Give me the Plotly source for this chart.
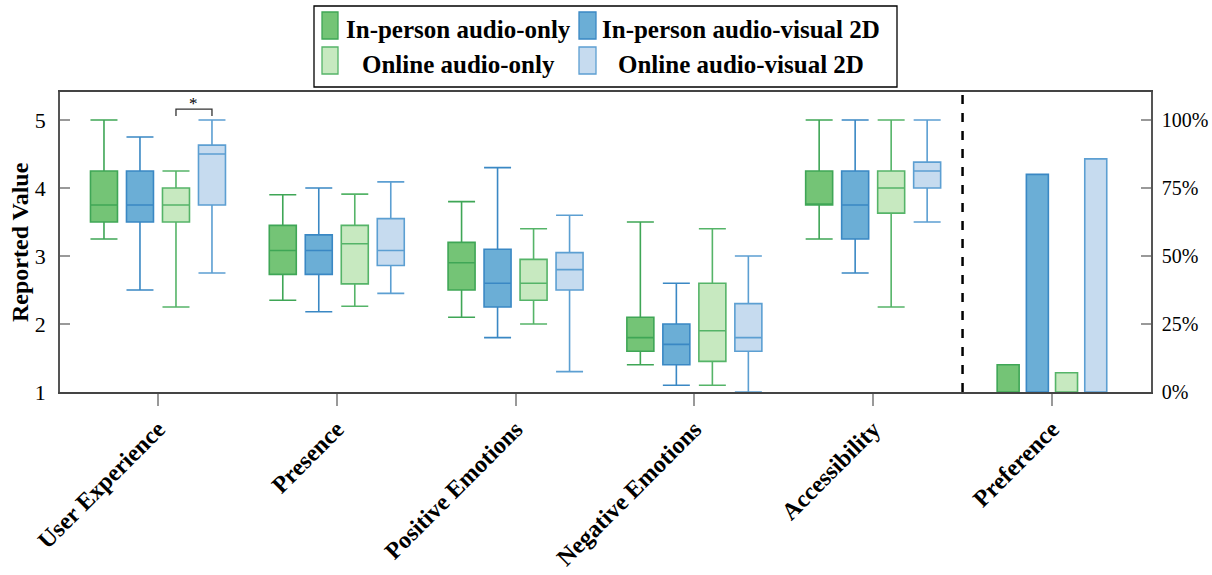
import plotly.graph_objects as go

# ---------------- data ----------------
categories = ["User Experience", "Presence", "Positive Emotions",
              "Negative Emotions", "Accessibility", "Preference"]
series_names = ["In-person audio-only", "In-person audio-visual 2D",
                "Online audio-only", "Online audio-visual 2D"]

# box statistics for the first five categories
ip_ao_low = [3.25, 2.35, 2.10, 1.40, 3.25]
ip_ao_q1 = [3.50, 2.73, 2.50, 1.60, 3.75]
ip_ao_med = [3.75, 3.08, 2.90, 1.80, 3.75]
ip_ao_q3 = [4.25, 3.45, 3.20, 2.10, 4.25]
ip_ao_high = [5.00, 3.90, 3.80, 3.50, 5.00]

ip_av_low = [2.50, 2.18, 1.80, 1.10, 2.75]
ip_av_q1 = [3.50, 2.73, 2.25, 1.40, 3.25]
ip_av_med = [3.75, 3.08, 2.60, 1.70, 3.75]
ip_av_q3 = [4.25, 3.31, 3.10, 2.00, 4.25]
ip_av_high = [4.75, 4.00, 4.30, 2.60, 5.00]

on_ao_low = [2.25, 2.26, 2.00, 1.10, 2.25]
on_ao_q1 = [3.50, 2.59, 2.35, 1.45, 3.63]
on_ao_med = [3.75, 3.18, 2.60, 1.90, 4.00]
on_ao_q3 = [4.00, 3.45, 2.95, 2.60, 4.25]
on_ao_high = [4.25, 3.91, 3.40, 3.40, 5.00]

on_av_low = [2.75, 2.45, 1.30, 1.00, 3.50]
on_av_q1 = [3.75, 2.86, 2.50, 1.60, 4.00]
on_av_med = [4.50, 3.08, 2.80, 1.80, 4.25]
on_av_q3 = [4.63, 3.55, 3.05, 2.30, 4.38]
on_av_high = [5.00, 4.09, 3.60, 3.00, 5.00]

# preference share (right axis)
preference_share = [0.10, 0.80, 0.071, 0.857]

right_tick_vals = [0, 0.25, 0.5, 0.75, 1.0]
right_tick_text = ["0%", "25%", "50%", "75%", "100%"]
left_tick_vals = [1, 2, 3, 4, 5]

# ---------------- style ----------------
fills = ["#74c476", "#6baed6", "#c7e9c0", "#c6dbef"]
edges = ["#3fa656", "#3a88c4", "#55b468", "#5c9fd2"]
box_offsets = [-0.302, -0.1007, 0.1007, 0.302]
box_width = 0.151
bar_offsets = [-0.245, -0.0816, 0.0816, 0.245]
bar_width = 0.123
FONT = "Liberation Serif"

# pixel layout (page coordinates)
L, R, T, B = 60, 1151, 92, 392
W, H = 1212, 575


def px(x):
    return (x - L) / (R - L)


def py(y):
    return (B - y) / (B - T)


stats = [
    (ip_ao_low, ip_ao_q1, ip_ao_med, ip_ao_q3, ip_ao_high),
    (ip_av_low, ip_av_q1, ip_av_med, ip_av_q3, ip_av_high),
    (on_ao_low, on_ao_q1, on_ao_med, on_ao_q3, on_ao_high),
    (on_av_low, on_av_q1, on_av_med, on_av_q3, on_av_high),
]

fig = go.Figure()
n_box = len(ip_ao_q1)
for i, (low, q1, med, q3, high) in enumerate(stats):
    fig.add_trace(go.Box(
        x=[c + box_offsets[i] for c in range(n_box)],
        lowerfence=low, q1=q1, median=med, q3=q3, upperfence=high,
        width=box_width, whiskerwidth=1,
        fillcolor=fills[i], line=dict(color=edges[i], width=1.6),
        name=series_names[i], showlegend=False, boxpoints=False,
        yaxis="y",
    ))

pref_idx = categories.index("Preference")
for i, v in enumerate(preference_share):
    fig.add_trace(go.Bar(
        x=[pref_idx + bar_offsets[i]], y=[v], width=bar_width,
        marker=dict(color=fills[i], line=dict(color=edges[i], width=1.6)),
        name=series_names[i], showlegend=False, yaxis="y2",
    ))

shapes = []
annotations = []

# dashed separator
shapes.append(dict(type="line", xref="x", yref="paper", x0=4.5, x1=4.5,
                   y0=0, y1=1, line=dict(color="black", width=2.5, dash="dash")))

# significance bracket between online audio-only and online AV in UX
xa, xb = 0 + box_offsets[2], 0 + box_offsets[3]
shapes.append(dict(type="path", xref="x", yref="y",
                   path=f"M {xa},5.06 L {xa},5.16 L {xb},5.16 L {xb},5.06",
                   line=dict(color="#333333", width=1.3)))
annotations.append(dict(x=(xa + xb) / 2, y=5.16, xref="x", yref="y",
                        text="*", showarrow=False, yanchor="bottom",
                        font=dict(family=FONT, size=17, color="black"), yshift=-6))

# y-axis title
annotations.append(dict(x=px(20), y=0.5, xref="paper", yref="paper",
                        text="<b>Reported Value</b>", textangle=-90,
                        showarrow=False, xanchor="center", yanchor="middle",
                        font=dict(family=FONT, size=24, color="black")))

# manual legend
shapes.append(dict(type="rect", xref="paper", yref="paper",
                   x0=px(314), x1=px(897), y0=py(87), y1=py(6),
                   line=dict(color="black", width=1.3), fillcolor="white"))
leg_rects = [(322, 338, 12, 39), (579, 596, 12, 39),
             (322, 338, 47, 74), (579, 596, 47, 74)]
leg_text_pos = [(458, 29), (741, 29), (458, 64), (741, 64)]
for i in range(4):
    x0, x1, y0, y1 = leg_rects[i]
    shapes.append(dict(type="rect", xref="paper", yref="paper",
                       x0=px(x0), x1=px(x1), y0=py(y1), y1=py(y0),
                       fillcolor=fills[i], line=dict(color=edges[i], width=1.3)))
    tx, ty = leg_text_pos[i]
    annotations.append(dict(x=px(tx), y=py(ty), xref="paper", yref="paper",
                            text=f"<b>{series_names[i]}</b>", showarrow=False,
                            xanchor="center", yanchor="middle",
                            font=dict(family=FONT, size=25, color="black")))

fig.update_layout(
    width=W, height=H,
    margin=dict(l=L, r=W - R, t=T, b=H - B, pad=0, autoexpand=False),
    plot_bgcolor="white", paper_bgcolor="white",
    boxmode="overlay", barmode="overlay",
    font=dict(family=FONT, size=20, color="black"),
    showlegend=False,
    shapes=shapes, annotations=annotations,
    xaxis=dict(
        automargin=False,
        range=[-0.548, 5.554],
        tickvals=list(range(len(categories))),
        ticktext=[f"<b>{c}</b>" for c in categories],
        tickangle=-45, tickfont=dict(family=FONT, size=24, color="black"),
        ticks="outside", ticklen=12, tickcolor="#999999", tickwidth=1.5,
        showline=True, linecolor="#444444", linewidth=1.5, mirror=True,
        showgrid=False, zeroline=False,
    ),
    yaxis=dict(
        automargin=False,
        range=[1, 1 + 300 / 68],
        tickvals=left_tick_vals, ticktext=[str(v) for v in left_tick_vals],
        ticks="inside", ticklen=10, tickcolor="#999999", tickwidth=1.5,
        tickfont=dict(family=FONT, size=22, color="black"),
        ticklabelstandoff=8,
        showline=True, linecolor="#555555", linewidth=1.5, mirror=True,
        showgrid=False, zeroline=False,
    ),
    yaxis2=dict(
        automargin=False,
        range=[0, 300 / 272], overlaying="y", side="right",
        tickvals=right_tick_vals, ticktext=right_tick_text,
        ticks="inside", ticklen=10, tickcolor="#999999", tickwidth=1.5,
        tickfont=dict(family=FONT, size=20, color="black"),
        ticklabelstandoff=5,
        showline=True, linecolor="#555555", linewidth=1.5,
        showgrid=False, zeroline=False,
    ),
)

fig.write_html(
    "out.html",
    config={"displayModeBar": False},
    post_script="document.body.style.margin='0';"
                "document.documentElement.style.overflow='hidden';"
                "document.body.style.overflow='hidden';",
)
